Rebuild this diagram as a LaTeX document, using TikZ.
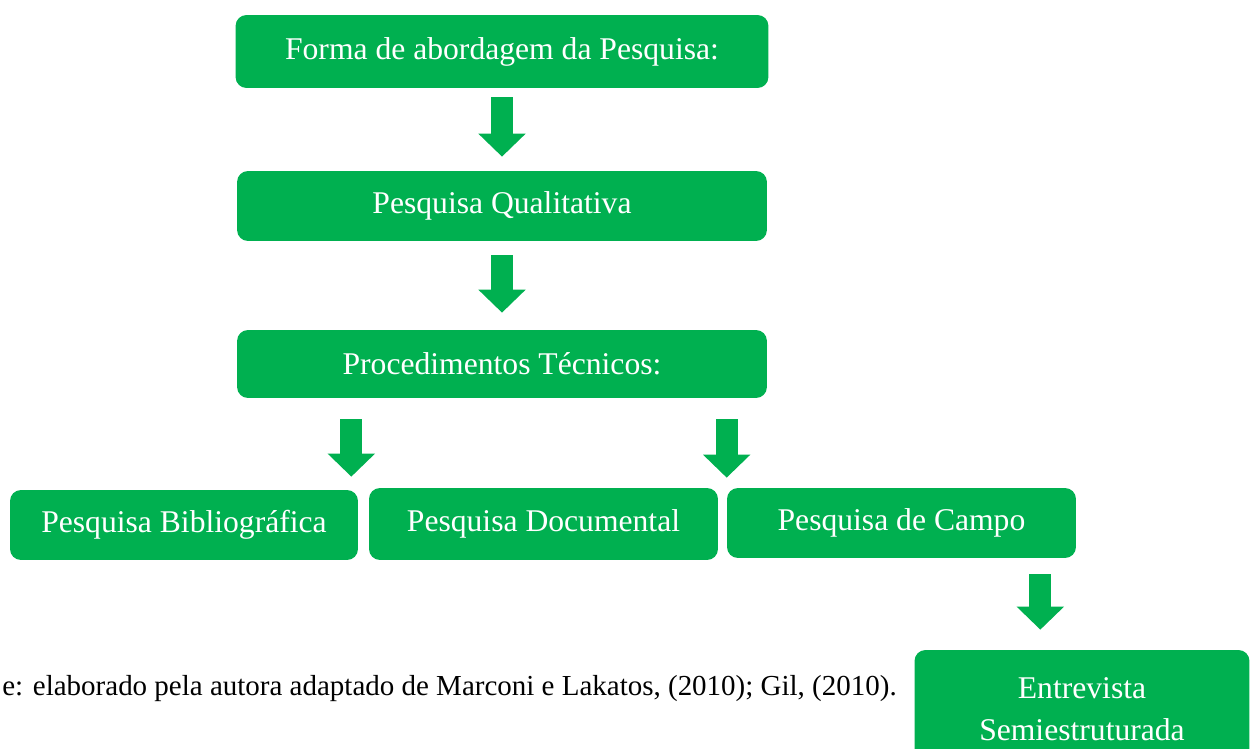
\documentclass[tikz,border=0pt]{standalone}
\usepackage{fontspec}
\setmainfont{Liberation Serif}
\usepackage{xcolor}
\usetikzlibrary{arrows.meta, positioning}
\definecolor{verde}{HTML}{00B050}

\begin{document}
\begin{tikzpicture}[x=0.02cm, y=-0.02cm,
        caixa/.style={rectangle, rounded corners=0.22cm, fill=verde, text=white, inner sep=0pt, align=center, font=\fontsize{18pt}{24pt}\selectfont},
        seta/.style={verde, line width=0.44cm, -{Triangle[width=0.92cm, length=0.46cm]}}]
        \useasboundingbox (0, 0) rectangle (1252, 749);

        \node[caixa, minimum width=10.66cm, minimum height=1.46cm] (forma) at (502, 51.5) {Forma de abordagem da Pesquisa:};
        \node[caixa, minimum width=10.6cm, minimum height=1.4cm] (qual) at (502, 206) {Pesquisa Qualitativa};
        \node[caixa, minimum width=10.6cm, minimum height=1.36cm] (proc) at (502, 364) {Procedimentos Técnicos:};
        \node[caixa, minimum width=6.96cm, minimum height=1.4cm] (bib) at (184, 525) {Pesquisa Bibliográfica};
        \node[caixa, minimum width=6.98cm, minimum height=1.44cm] (doc) at (543.5, 524) {Pesquisa Documental};
        \node[caixa, minimum width=6.98cm, minimum height=1.4cm] (campo) at (901.5, 523) {Pesquisa de Campo};
        \node[caixa, minimum width=6.7cm, minimum height=2.36cm] (entre) at (1082, 709) {Entrevista\\Semiestruturada};
        \node[anchor=base west, inner sep=0pt, font=\fontsize{16.5pt}{19pt}\selectfont] (fonte) at (2, 696) {e: elaborado pela autora adaptado de Marconi e Lakatos, (2010); Gil, (2010).};

        \coordinate (s3) at ([xshift=-0.14cm]bib.north east);
        \coordinate (s4) at ([xshift=-0.72cm]campo.south east);

        \draw[seta, shorten <=0.18cm, shorten >=0.28cm] (forma.south) -- (qual.north);
        \draw[seta, shorten <=0.28cm, shorten >=0.34cm] (qual.south) -- (proc.north);
        \draw[seta, shorten <=0.42cm, shorten >=0.26cm] (proc.south -| s3) -- (s3);
        \draw[seta, shorten <=0.42cm, shorten >=0.2cm] (proc.south -| campo.north west) -- (campo.north west);
        \draw[seta, shorten <=0.32cm, shorten >=0.4cm] (s4) -- (s4 |- entre.north);
    \end{tikzpicture}
\end{document}
